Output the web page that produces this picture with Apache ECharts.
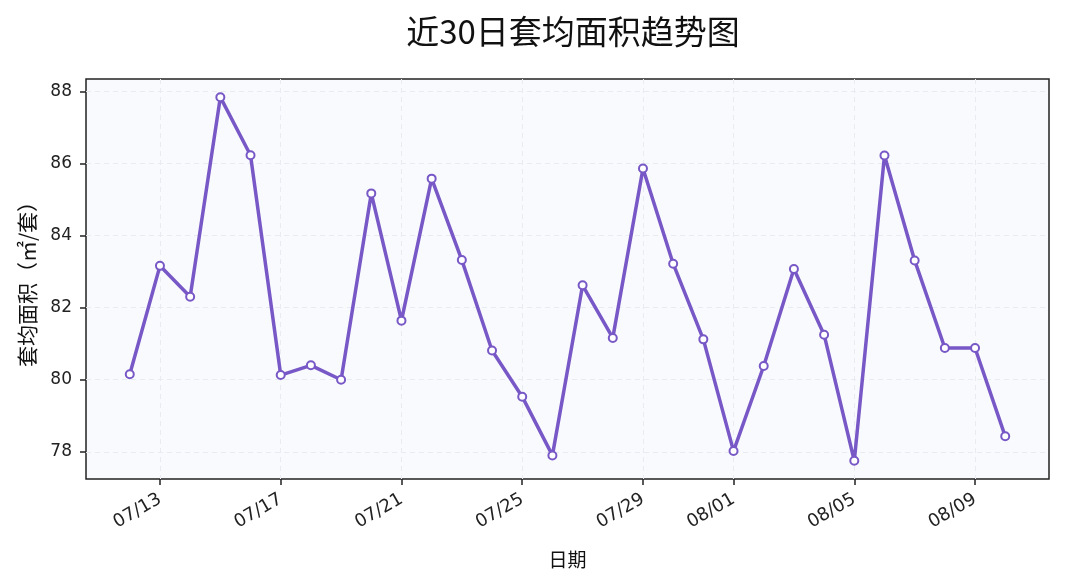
<!DOCTYPE html>
<html>
<head>
<meta charset="utf-8">
<script src="https://cdn.jsdelivr.net/npm/echarts@6/dist/echarts.min.js"></script>
<style>
html,body{margin:0;padding:0;background:#fff;}
#chart{width:1065px;height:588px;}
</style>
</head>
<body>
<div id="chart"></div>
<script>
const dates = ['07/12','07/13','07/14','07/15','07/16','07/17','07/18','07/19','07/20','07/21',
  '07/22','07/23','07/24','07/25','07/26','07/27','07/28','07/29','07/30','07/31',
  '08/01','08/02','08/03','08/04','08/05','08/06','08/07','08/08','08/09','08/10'];
const avgArea = [80.15,83.16,82.3,87.84,86.23,80.13,80.4,80.0,85.17,81.64,
  85.58,83.32,80.81,79.53,77.9,82.62,81.16,85.86,83.22,81.12,
  78.02,80.38,83.07,81.25,77.75,86.22,83.31,80.88,80.88,78.43];
const xTickLabels = ['07/13','07/17','07/21','07/25','07/29','08/01','08/05','08/09'];
const yTicks = [78,80,82,84,86,88];

const xTickIdx = xTickLabels.map(l => dates.indexOf(l));
const n = dates.length;
const xPad = (n - 1) * 0.05;
const yMinD = Math.min(...avgArea), yMaxD = Math.max(...avgArea);
const yPad = (yMaxD - yMinD) * 0.05;

const purple = '#7858c6';
const font = '"DejaVu Sans", "Noto Sans CJK SC", sans-serif';
const cjk = '"Noto Sans CJK SC", sans-serif';

const chart = echarts.init(document.getElementById('chart'), null, {renderer: 'canvas'});
chart.setOption({
  animation: false,
  backgroundColor: '#ffffff',
  title: {
    text: '近30日套均面积趋势图',
    left: 568, top: 10, textAlign: 'center',
    textStyle: {fontFamily: cjk, fontSize: 33, fontWeight: 'normal', color: '#111'}
  },
  grid: {
    left: 86, right: 16, top: 79, bottom: 109,
    show: true, backgroundColor: '#f8fafd', borderColor: '#222', borderWidth: 1.5
  },
  xAxis: {
    type: 'value',
    min: -xPad, max: n - 1 + xPad,
    name: '日期', nameLocation: 'middle', nameGap: 71,
    nameTextStyle: {fontFamily: cjk, fontSize: 19, color: '#111'},
    axisLine: {show: false, onZero: false},
    axisTick: {show: true, inside: false, length: 6, customValues: xTickIdx,
      lineStyle: {color: '#222', width: 1.5}},
    axisLabel: {customValues: xTickIdx, rotate: 30, margin: 19,
      fontFamily: font, fontSize: 18, color: '#222',
      formatter: v => dates[Math.round(v)]},
    splitLine: {show: true, lineStyle: {color: '#e8ecf2', type: [5, 4], width: 1}}
  },
  yAxis: {
    type: 'value',
    min: yMinD - yPad, max: yMaxD + yPad,
    name: '套均面积（㎡/套）', nameLocation: 'middle', nameGap: 48, nameRotate: 90,
    nameTextStyle: {fontFamily: cjk, fontSize: 21, color: '#111'},
    axisLine: {show: false, onZero: false},
    axisTick: {show: true, inside: false, length: 6, customValues: yTicks,
      lineStyle: {color: '#222', width: 1.5}},
    axisLabel: {customValues: yTicks, margin: 14, fontFamily: font, fontSize: 17, color: '#222'},
    splitLine: {show: true, lineStyle: {color: '#e8ecf2', type: [5, 4], width: 1}}
  },
  series: [{
    type: 'line',
    data: avgArea.map((v, i) => [i, v]),
    symbol: 'circle', symbolSize: 8,
    lineStyle: {color: purple, width: 3.5},
    itemStyle: {color: '#ffffff', borderColor: purple, borderWidth: 2},
    z: 5
  }]
});
</script>
</body>
</html>
